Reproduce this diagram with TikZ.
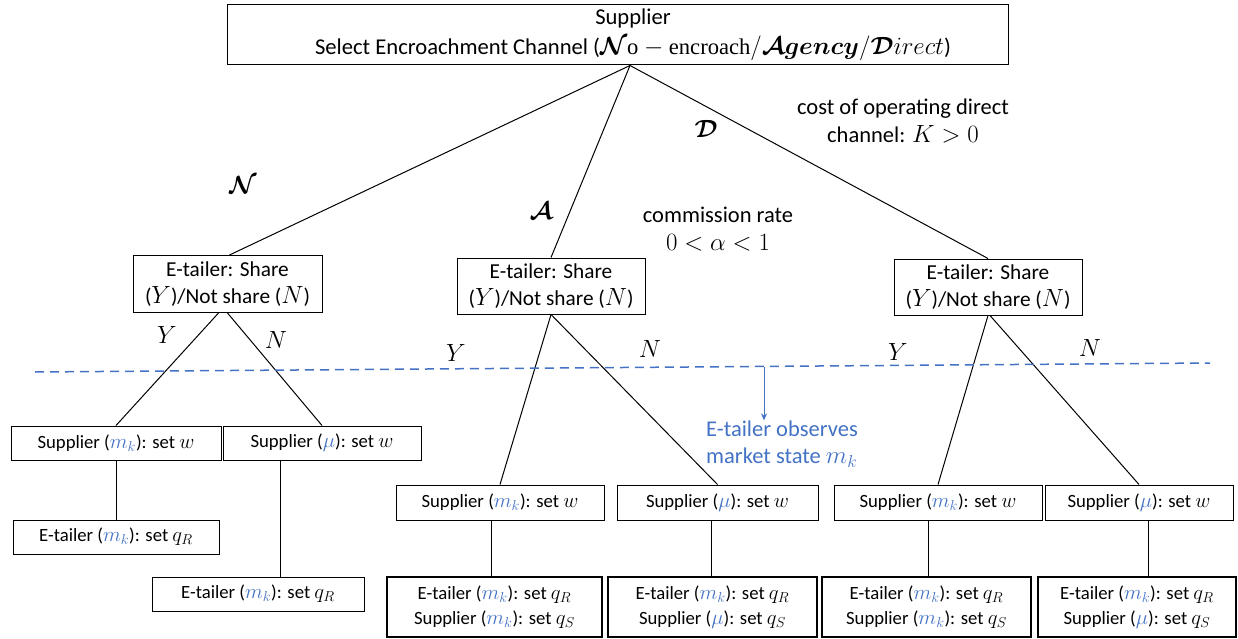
\documentclass[tikz,border=0pt]{standalone}
\usepackage{fontspec}
\setmainfont{Carlito}
\newfontfamily\serifup{Liberation Serif}
\usepackage{bm}
\usetikzlibrary{arrows.meta}
\definecolor{obsblue}{RGB}{68,114,196}
\newcommand{\bl}[1]{\textcolor{obsblue}{#1}}
\newcommand{\mk}{\bl{$m_k$}}
\newcommand{\mmu}{\bl{$\mu$}}
% math set a little larger than the surrounding text
\DeclareMathSizes{18.7}{21}{15.5}{12}
\DeclareMathSizes{21.3}{24}{17.5}{13}
\DeclareMathSizes{22.6}{23.5}{18}{14}
\DeclareMathSizes{22.5}{25.5}{18.5}{14}

\begin{document}
\begin{tikzpicture}[x=1pt,y=-1pt,
  box/.style={draw, line width=1pt, align=center, inner sep=0pt, anchor=center},
  toptxt/.style={font=\fontsize{22.6}{30}\selectfont},
  bigtxt/.style={font=\fontsize{21.3}{27}\selectfont},
  smalltxt/.style={font=\fontsize{18.7}{24.5}\selectfont},
  edge/.style={line width=1pt},
  lbl/.style={inner sep=0pt, anchor=center, font=\fontsize{22.5}{27.5}\selectfont},
]
\useasboundingbox (0,0) rectangle (1238,639);

% root decision
\node[box, toptxt, minimum width=781, minimum height=60] (top) at (618,35)
  {\hspace*{30pt}Supplier\\\hspace*{30pt}Select Encroachment Channel ($\bm{\mathcal{N}}\mbox{\serifup o}-\mbox{\serifup encroach}/\bm{\mathcal{A}gency}/\bm{\mathcal{D}}irect$)};

% sharing decisions
\node[box, bigtxt, minimum width=189, minimum height=57] (e1) at (227.5,284) {E-tailer: Share\\($Y$)/Not share ($N$)};
\node[box, bigtxt, minimum width=188, minimum height=56] (e2) at (551,286) {E-tailer: Share\\($Y$)/Not share ($N$)};
\node[box, bigtxt, minimum width=188, minimum height=56] (e3) at (988,287) {E-tailer: Share\\($Y$)/Not share ($N$)};

% wholesale price stage
\node[box, smalltxt, minimum width=210, minimum height=34] (l1) at (116,443) {Supplier (\mk): set $w$};
\node[box, smalltxt, minimum width=198, minimum height=34] (l2) at (322,443) {Supplier (\mmu): set $w$};
\node[box, smalltxt, minimum width=208, minimum height=35] (m1) at (500,502.5) {Supplier (\mk): set $w$};
\node[box, smalltxt, minimum width=201, minimum height=35] (m2) at (717.5,502.5) {Supplier (\mmu): set $w$};
\node[box, smalltxt, minimum width=208, minimum height=35] (r1) at (938,502.5) {Supplier (\mk): set $w$};
\node[box, smalltxt, minimum width=188, minimum height=35] (r2) at (1139,502.5) {Supplier (\mmu): set $w$};

% quantity stage
\node[box, smalltxt, minimum width=206, minimum height=34] (b1) at (116,537) {E-tailer (\mk): set $q_R$};
\node[box, smalltxt, minimum width=212, minimum height=34] (b2) at (258,594) {E-tailer (\mk): set $q_R$};
\node[box, smalltxt, minimum width=215, minimum height=60, line width=1.1pt] (c1) at (494.5,607) {E-tailer (\mk): set $q_R$\\Supplier (\mk): set $q_S$};
\node[box, smalltxt, minimum width=209, minimum height=60, line width=1.1pt] (c2) at (712.5,607) {E-tailer (\mk): set $q_R$\\Supplier (\mmu): set $q_S$};
\node[box, smalltxt, minimum width=209, minimum height=60, line width=1.1pt] (c3) at (926.5,607) {E-tailer (\mk): set $q_R$\\Supplier (\mk): set $q_S$};
\node[box, smalltxt, minimum width=198, minimum height=60, line width=1.1pt] (c4) at (1137,607) {E-tailer (\mk): set $q_R$\\Supplier (\mmu): set $q_S$};

% channel branches
\draw[edge] ([xshift=12]top.south) -- ([xshift=2]e1.north);
\draw[edge] ([xshift=12]top.south) -- (e2.north);
\draw[edge] ([xshift=12]top.south) -- (e3.north);
\node[lbl] (lN) at (243,185) {$\bm{\mathcal{N}}$};
\node[lbl] (lA) at (541,211) {$\bm{\mathcal{A}}$};
\node[lbl] (lD) at (706,129) {$\bm{\mathcal{D}}$};

\node[lbl, align=center] (cost) at (903,121) {cost of operating direct\\channel: $K>0$};
\node[lbl, align=center] (comm) at (718,229) {commission rate\\$0<\alpha<1$};

% share / not share branches
\draw[edge] ([xshift=-9]e1.south) -- (l1.north);
\draw[edge] ([xshift=0]e1.south) -- (l2.north);
\draw[edge] (e2.south) -- (m1.north);
\draw[edge] (e2.south) -- (m2.north);
\draw[edge] (e3.south) -- (r1.north);
\draw[edge] ([xshift=2]e3.south) -- (r2.north);

\node[lbl] (y1) at (167,335) {$Y$};
\node[lbl] (n1) at (276,340) {$N$};
\node[lbl] (y2) at (456,353) {$Y$};
\node[lbl] (n2) at (650,349) {$N$};
\node[lbl] (y3) at (898,352) {$Y$};
\node[lbl] (n3) at (1090,348) {$N$};

% follow-up decisions
\draw[edge] (l1.south) -- (b1.north);
\draw[edge] ([xshift=-42]l2.south) -- ([xshift=22]b2.north);
\draw[edge] ([xshift=-9]m1.south) -- ([xshift=-3.5]c1.north);
\draw[edge] ([xshift=-6.5]m2.south) -- ([xshift=-1.5]c2.north);
\draw[edge] ([xshift=-10]r1.south) -- ([xshift=1.5]c3.north);
\draw[edge] ([xshift=9]r2.south) -- ([xshift=11]c4.north);

% information revelation
\coordinate (dl) at (35,372);
\coordinate (dr) at (1210,363);
\draw[obsblue, line width=1.5pt, dash pattern=on 9pt off 6pt] (dl) -- (dr);
\node[lbl, align=left, text=obsblue] (obs) at (782,444) {E-tailer observes\\market state $m_k$};
\coordinate (obstop) at (764,367);
\draw[obsblue, line width=1pt, -{Stealth[length=7pt,width=6pt]}] (obstop) -- (obstop |- obs.north);
\end{tikzpicture}
\end{document}
